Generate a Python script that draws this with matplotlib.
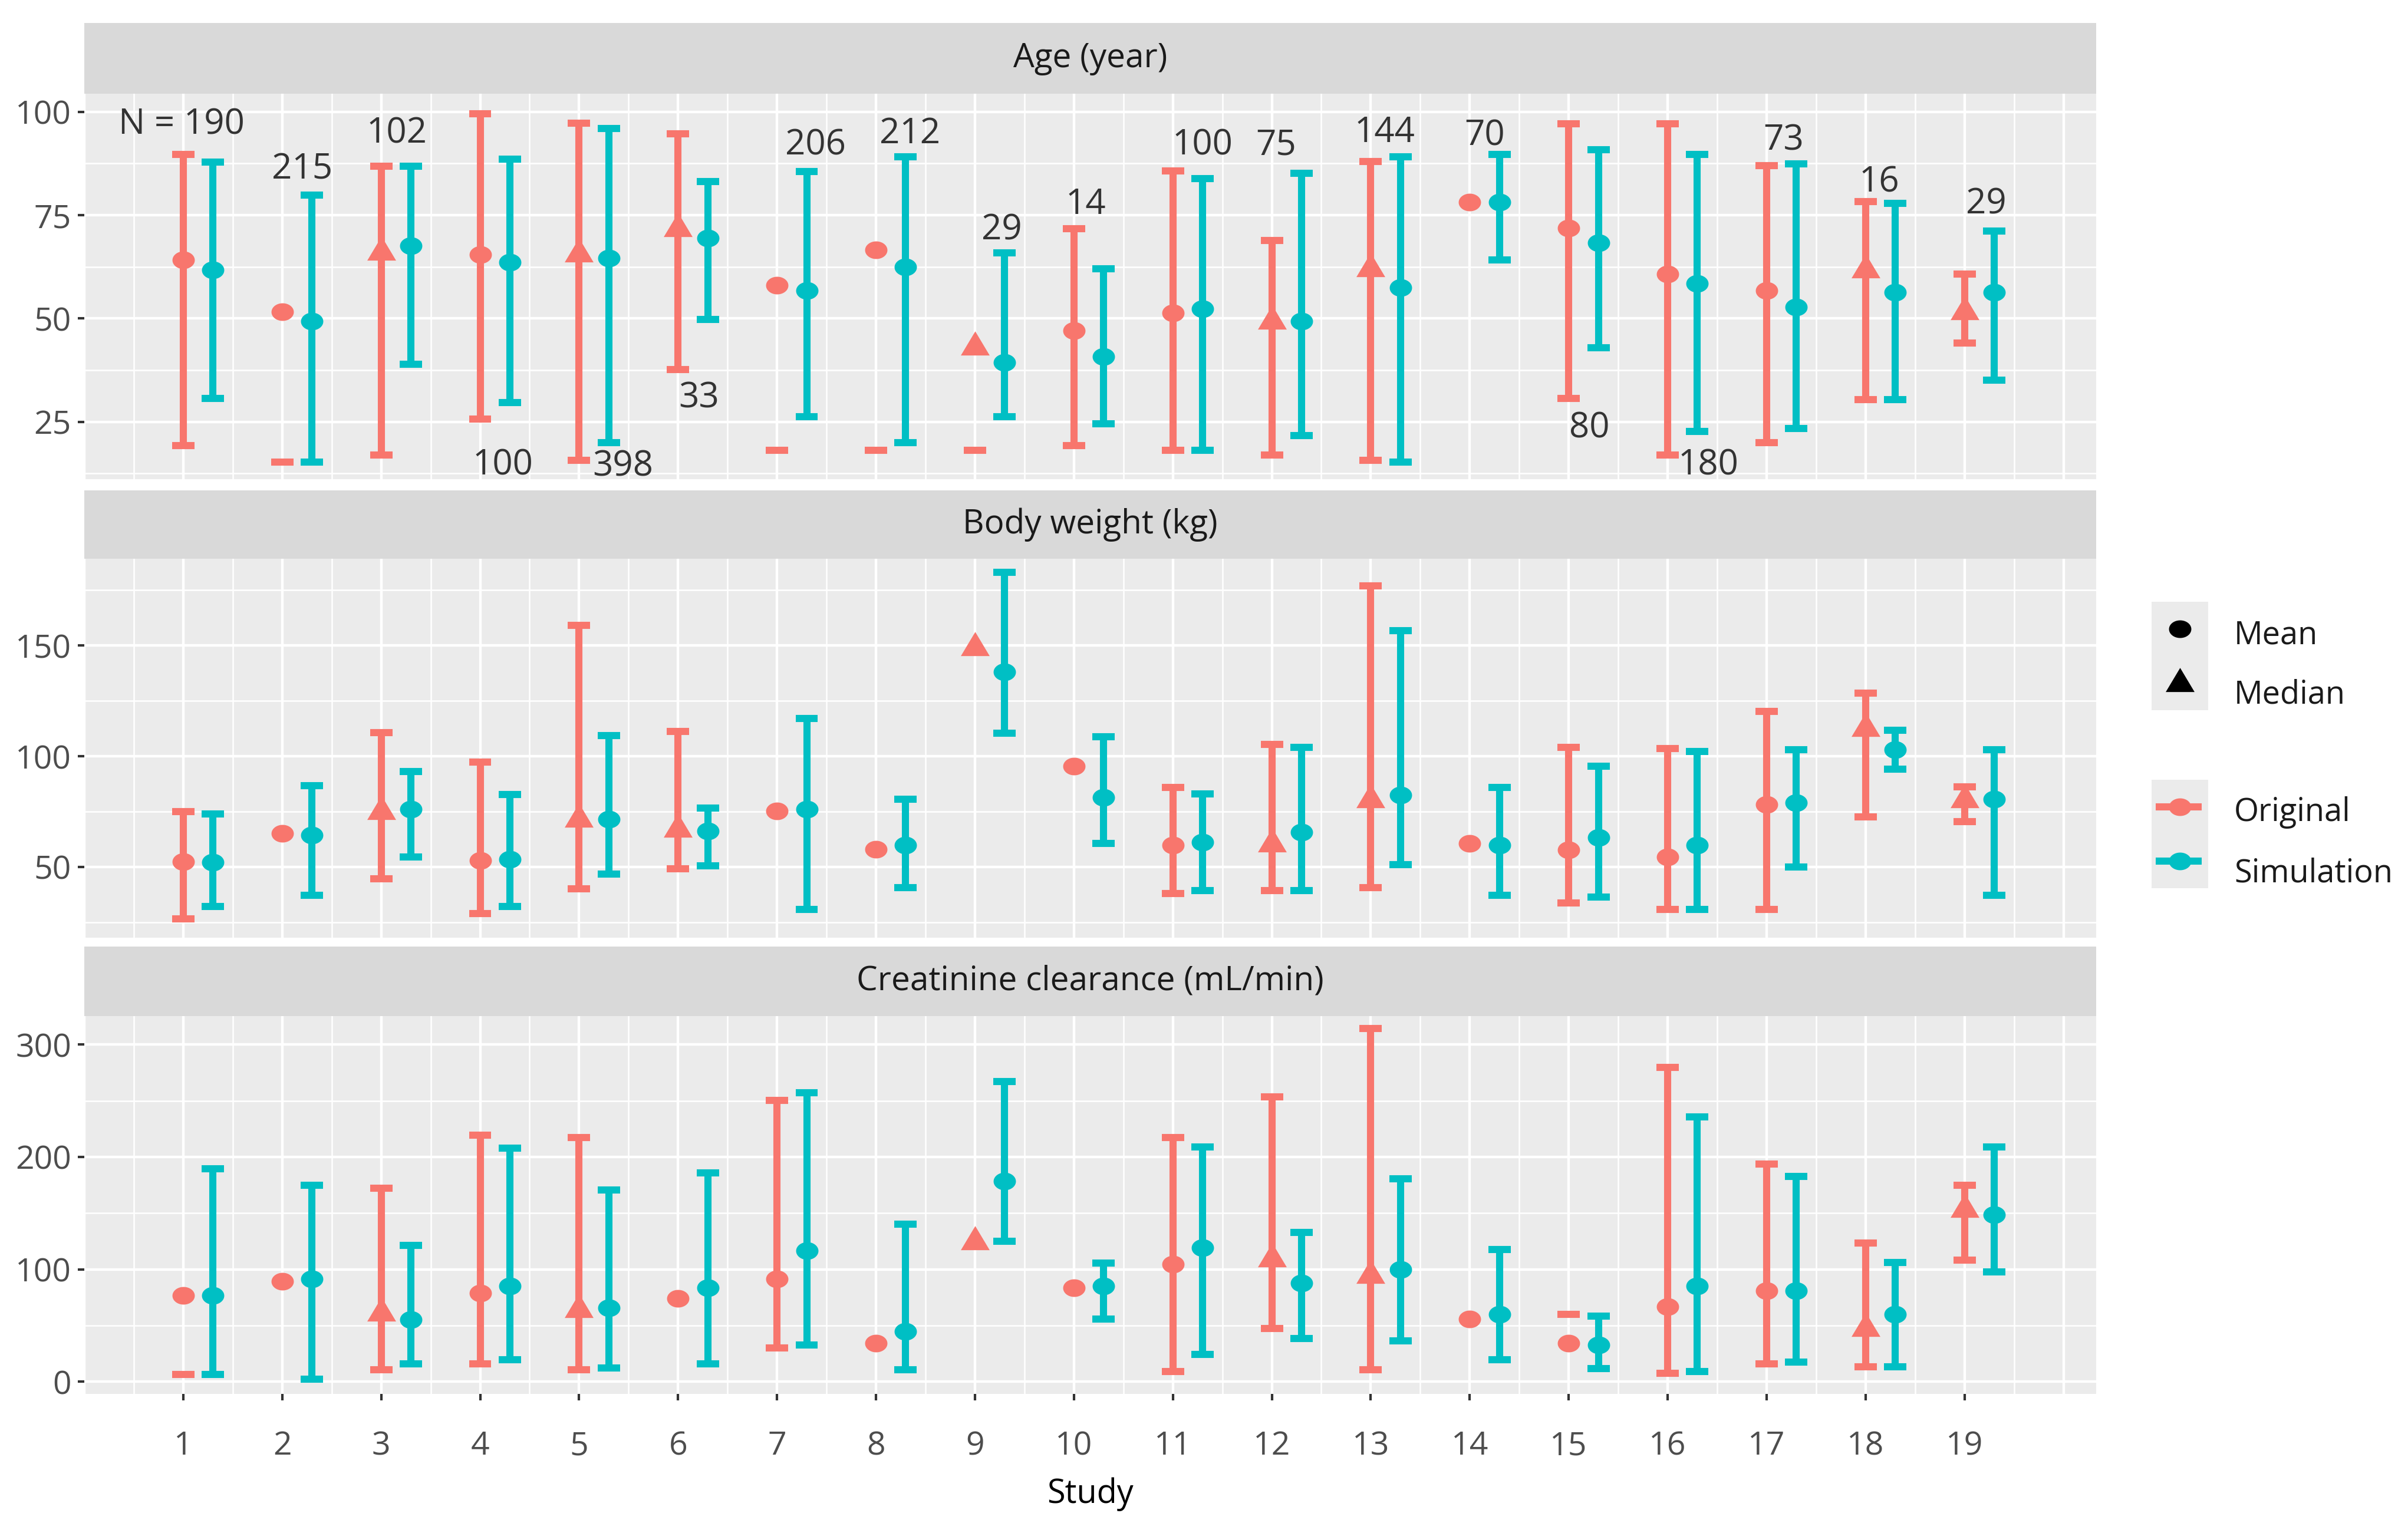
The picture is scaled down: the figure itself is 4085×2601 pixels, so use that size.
import numpy as np
import matplotlib
matplotlib.use("Agg")
import matplotlib.pyplot as plt
from matplotlib.path import Path
from matplotlib.patches import Rectangle

nan = np.nan

studies = np.arange(1, 20)
sim_offset = 0.3

# Age (year)
age_orig_stat = ["Mean", "Mean", "Median", "Mean", "Median", "Median", "Mean", "Mean", "Median", "Mean",
                 "Mean", "Median", "Median", "Mean", "Mean", "Mean", "Mean", "Median", "Median"]
age_orig_val = [64.2, 51.6, 66.0, 65.4, 65.6, 71.7, 58.0, 66.6, 43.1, 47.0,
                51.4, 49.3, 62.1, 78.2, 71.9, 60.7, 56.8, 61.7, 51.6]
age_orig_lo = [19.3, 15.2, 17.0, 25.7, 15.6, 37.7, 18.1, 18.1, 18.1, 19.3,
               18.1, 17.0, 15.6, nan, 30.7, 17.0, 19.9, 30.3, 44.0]
age_orig_hi = [89.7, nan, 86.8, 99.5, 97.3, 94.7, nan, nan, nan, 71.7,
               85.7, 68.9, 88.0, nan, 97.1, 97.1, 87.0, 78.3, 60.7]
age_sim_val = [61.8, 49.3, 67.6, 63.6, 64.6, 69.4, 56.7, 62.5, 39.4, 40.8,
               52.4, 49.3, 57.4, 78.2, 68.3, 58.4, 52.8, 56.3, 56.3]
age_sim_lo = [30.7, 15.2, 38.9, 29.7, 19.9, 49.8, 26.2, 19.9, 26.2, 24.5,
              18.1, 21.7, 15.2, 64.2, 42.9, 22.6, 23.4, 30.3, 35.0]
age_sim_hi = [87.8, 79.9, 86.8, 88.6, 96.0, 83.2, 85.5, 89.2, 65.9, 62.1,
              83.9, 85.1, 89.2, 89.7, 90.9, 89.7, 87.4, 77.9, 71.2]

# sample sizes written in the age panel
n_text = ["N = 190", "215", "102", "100", "398", "33", "206", "212", "29", "14",
          "100", "75", "144", "70", "80", "180", "73", "16", "29"]
n_x = [0.98, 2.20, 3.16, 4.23, 5.44, 6.21, 7.39, 8.34, 9.27, 10.12,
       11.30, 12.04, 13.14, 14.15, 15.21, 16.41, 17.17, 18.14, 19.22]
n_y = [96.9, 86.1, 94.7, 14.5, 14.1, 30.7, 91.9, 94.7, 71.4, 77.6,
       91.9, 91.9, 95.0, 94.2, 23.4, 14.5, 93.0, 83.0, 77.6]

# Body weight (kg)
bw_orig_stat = age_orig_stat
bw_orig_val = [52.4, 65.0, 74.9, 53.0, 71.6, 67.0, 75.2, 58.0, 149.0, 95.4,
               59.9, 60.3, 80.2, 60.6, 57.7, 54.4, 78.2, 112.6, 80.2]
bw_orig_lo = [26.6, nan, 44.7, 28.8, 40.2, 49.1, nan, nan, nan, nan,
              38.1, 39.4, 40.5, nan, 33.8, 30.9, 30.9, 72.5, 70.5]
bw_orig_hi = [74.9, nan, 110.7, 97.4, 159.0, 111.3, nan, nan, nan, nan,
              85.8, 105.4, 176.9, nan, 104.0, 103.4, 120.2, 128.5, 86.2]
bw_sim_val = [52.1, 64.3, 76.0, 53.4, 71.6, 66.3, 76.0, 59.9, 138.2, 81.5,
              61.0, 65.6, 82.5, 59.9, 63.2, 59.9, 79.1, 103.0, 80.5]
bw_sim_lo = [32.1, 37.2, 54.4, 32.1, 46.8, 50.4, 30.9, 40.5, 110.4, 60.6,
             39.4, 39.4, 51.1, 37.2, 36.5, 30.9, 50.0, 94.1, 37.2]
bw_sim_hi = [73.8, 86.8, 93.0, 82.6, 109.3, 76.5, 117.0, 80.5, 183.2, 108.7,
             82.9, 104.0, 156.8, 85.8, 95.4, 102.1, 103.0, 111.7, 103.0]

# Creatinine clearance (mL/min)
cl_orig_stat = ["Mean", "Mean", "Median", "Mean", "Median", "Mean", "Mean", "Mean", "Median", "Mean",
                "Mean", "Median", "Median", "Mean", "Mean", "Mean", "Mean", "Median", "Median"]
cl_orig_val = [76.6, 89.3, 60.9, 78.6, 64.2, 74.2, 91.6, 34.1, 124.4, 83.3,
               104.3, 109.4, 94.3, 55.9, 34.1, 66.6, 81.0, 47.5, 153.5]
cl_orig_lo = [6.4, nan, 10.7, 15.7, 10.7, nan, 29.8, nan, nan, nan,
              9.0, 47.5, 10.7, nan, nan, 7.4, 15.7, 13.0, 108.4]
cl_orig_hi = [nan, nan, 172.2, 219.1, 217.1, nan, 250.5, nan, nan, nan,
              217.1, 253.2, 314.4, nan, 59.9, 279.9, 193.6, 123.4, 174.6]
cl_sim_val = [76.6, 91.6, 55.2, 85.3, 65.9, 83.3, 116.7, 44.8, 178.6, 85.3,
              119.4, 87.6, 100.0, 59.9, 32.4, 85.3, 81.0, 59.9, 148.8]
cl_sim_lo = [6.4, 2.3, 15.7, 19.7, 12.4, 15.7, 32.4, 10.7, 125.1, 55.9,
             24.1, 38.5, 36.5, 19.7, 11.4, 9.0, 17.4, 13.0, 97.7]
cl_sim_hi = [189.6, 174.6, 121.1, 208.0, 170.6, 185.6, 257.2, 140.1, 267.2, 105.4,
             208.7, 132.8, 180.6, 117.7, 58.2, 235.8, 182.9, 106.0, 208.7]

col_orig = "#F8766D"
col_sim = "#00BFC4"
plt.rcParams["font.family"] = ["Open Sans", "DejaVu Sans"]

# the source image is a bit stretched sideways, so markers are slightly wide
t = np.linspace(0, 2 * np.pi, 60)
circle_mk = Path(np.column_stack([0.5 * np.cos(t), 0.5 * 0.79 * np.sin(t)]), closed=True)
tri_h = 41 / 49
tri_mk = Path([(0, 2 / 3 * tri_h * 0.5 / (2 / 3 * tri_h)), (-0.5 / (4 / 3 * tri_h), -1 / 3 * tri_h * 0.5 / (2 / 3 * tri_h)),
               (0.5 / (4 / 3 * tri_h), -1 / 3 * tri_h * 0.5 / (2 / 3 * tri_h)), (0, 0.5)], closed=True)
markers = {"Mean": (circle_mk, 9.1), "Median": (tri_mk, 13.1)}

W, H, DPI = 4085, 2601, 300
fig = plt.figure(figsize=(W / DPI, H / DPI), dpi=DPI)


def box(x0, y0, x1, y1):
    return [x0 / W, 1 - y1 / H, (x1 - x0) / W, (y1 - y0) / H]


def draw_series(ax, x, val, lo, hi, stats, color):
    x = np.asarray(x, float)
    lo = np.asarray(lo, float)
    hi = np.asarray(hi, float)
    both = ~np.isnan(lo) & ~np.isnan(hi)
    ax.vlines(x[both], lo[both], hi[both], color=color, lw=2.9, zorder=3)
    for ends in (lo, hi):
        ok = ~np.isnan(ends)
        ax.hlines(ends[ok], x[ok] - 0.113, x[ok] + 0.113, color=color, lw=2.9, zorder=3)
    for xi, v, s in zip(x, val, stats):
        mk, ms = markers[s]
        ax.plot(xi, v, marker=mk, ms=ms, color=color, mew=0, ls="none", zorder=4)


panels = [
    dict(title="Age (year)", strip=(39, 159), area=(159, 813), ylim=(11.1, 104.4),
         major=[25, 50, 75, 100], minor=[12.5, 37.5, 62.5, 87.5],
         orig=(age_orig_val, age_orig_lo, age_orig_hi, age_orig_stat),
         sim=(age_sim_val, age_sim_lo, age_sim_hi)),
    dict(title="Body weight (kg)", strip=(832, 948), area=(948, 1591), ylim=(18.0, 189.2),
         major=[50, 100, 150], minor=[25, 75, 125, 175],
         orig=(bw_orig_val, bw_orig_lo, bw_orig_hi, bw_orig_stat),
         sim=(bw_sim_val, bw_sim_lo, bw_sim_hi)),
    dict(title="Creatinine clearance (mL/min)", strip=(1606, 1724), area=(1724, 2365), ylim=(-10.9, 325.3),
         major=[0, 100, 200, 300], minor=[50, 150, 250],
         orig=(cl_orig_val, cl_orig_lo, cl_orig_hi, cl_orig_stat),
         sim=(cl_sim_val, cl_sim_lo, cl_sim_hi)),
]

x_left, x_right = 143, 3556
axes = []
for i, p in enumerate(panels):
    sax = fig.add_axes(box(x_left, p["strip"][0], x_right, p["strip"][1]))
    sax.set_facecolor("#D9D9D9")
    sax.set_xticks([])
    sax.set_yticks([])
    for sp in sax.spines.values():
        sp.set_visible(False)
    sax.text(0.5, 0.5, p["title"], ha="center", va="center", fontsize=13.6,
             color="#1A1A1A", transform=sax.transAxes)

    ax = fig.add_axes(box(x_left, p["area"][0], x_right, p["area"][1]))
    ax.set_facecolor("#EBEBEB")
    for sp in ax.spines.values():
        sp.set_visible(False)
    ax.set_xlim(0.0, 20.33)
    ax.set_ylim(*p["ylim"])
    ax.set_xticks(studies)
    ax.set_xticks(np.arange(0.5, 20.5, 1.0), minor=True)
    ax.set_yticks(p["major"])
    ax.set_yticks(p["minor"], minor=True)
    ax.set_axisbelow(True)
    ax.grid(which="major", color="white", lw=1.05)
    ax.grid(which="minor", color="white", lw=0.6)
    for xv in (0, 20):
        ax.axvline(xv, color="white", lw=1.05, zorder=0.5)
    ax.tick_params(axis="both", which="major", length=2.75, width=1.0, color="#333333",
                   labelsize=13.3, labelcolor="#4D4D4D", pad=2.5)
    ax.tick_params(axis="both", which="minor", length=0)
    if i < 2:
        ax.tick_params(axis="x", which="major", length=0, labelbottom=False)
    else:
        ax.tick_params(axis="x", pad=12)
        ax.set_xlabel("Study", fontsize=13.4, color="black", labelpad=6)

    ov, ol, oh, ostat = p["orig"]
    sv, sl, sh = p["sim"]
    draw_series(ax, studies, ov, ol, oh, ostat, col_orig)
    draw_series(ax, studies + sim_offset, sv, sl, sh, ["Mean"] * len(sv), col_sim)
    axes.append(ax)

for lab, xv, yv in zip(n_text, n_x, n_y):
    axes[0].text(xv, yv, lab, ha="center", va="center", fontsize=14.4, color="#333333", zorder=5)

# legend drawn in figure pixel coordinates
lax = fig.add_axes([0, 0, 1, 1], zorder=10)
lax.set_xlim(0, W)
lax.set_ylim(H, 0)
lax.axis("off")
kx0, kx1 = 3650, 3746
kc = (kx0 + kx1) / 2
for y0, y1 in ((1021, 1205), (1323, 1507)):
    lax.add_patch(Rectangle((kx0, y0), kx1 - kx0, y1 - y0, facecolor="#EBEBEB", edgecolor="none"))
lax.plot(kc, 1067, marker=circle_mk, ms=9.1, color="black", mew=0)
lax.plot(kc, 1160, marker=tri_mk, ms=13.1, color="black", mew=0)
for yv, c in ((1369, col_orig), (1461, col_sim)):
    lax.plot([kx0 + 7, kx1 - 11], [yv, yv], color=c, lw=2.9, solid_capstyle="butt")
    lax.plot(kc, yv, marker=circle_mk, ms=9.1, color=c, mew=0)
for yv, lab in ((1078, "Mean"), (1179, "Median"), (1379, "Original"), (1482, "Simulation")):
    lax.text(3790, yv, lab, ha="left", va="center", fontsize=13, color="#1A1A1A")

fig.savefig("out.png", dpi=DPI)
plt.close(fig)
